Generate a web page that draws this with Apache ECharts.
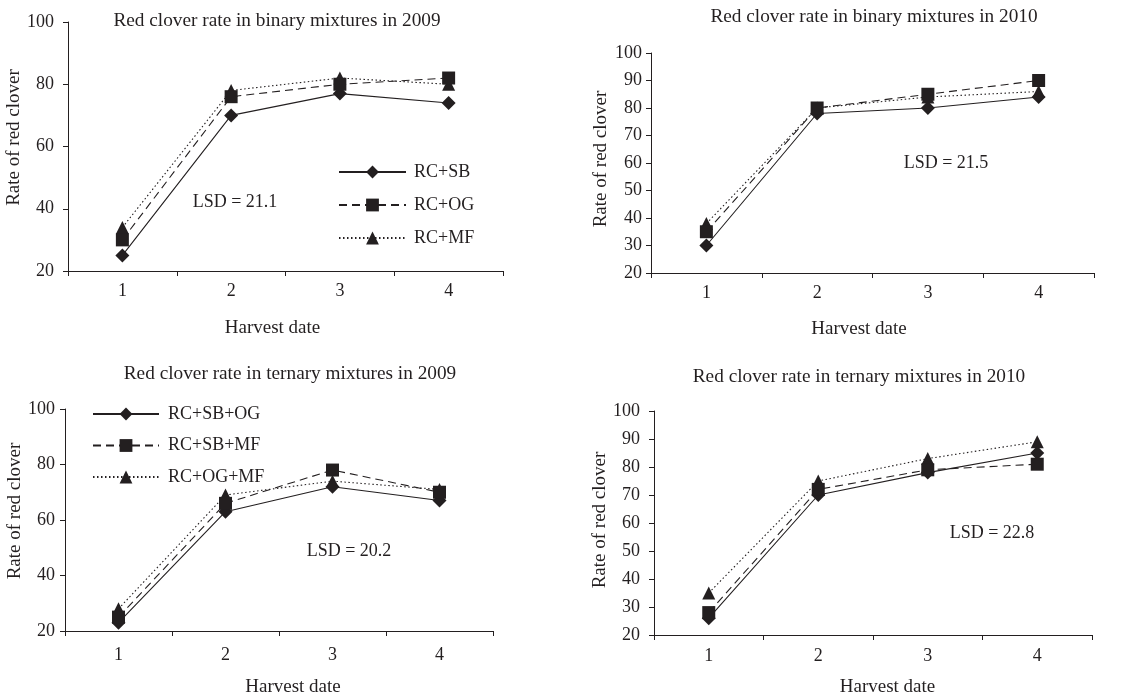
<!DOCTYPE html>
<html>
<head>
<meta charset="utf-8">
<script src="https://cdn.jsdelivr.net/npm/echarts@6/dist/echarts.min.js"></script>
<style>
html,body{margin:0;padding:0;background:#fff;}
#chart{width:1148px;height:698px;}
</style>
</head>
<body>
<div id="chart"></div>
<script>
// ---- data ----
const categories = ['1', '2', '3', '4'];
const binaryNames = ['RC+SB', 'RC+OG', 'RC+MF'];
const ternaryNames = ['RC+SB+OG', 'RC+SB+MF', 'RC+OG+MF'];

const rcSb2009 = [25, 70, 77, 74];
const rcOg2009 = [30, 76, 80, 82];
const rcMf2009 = [34, 78, 82, 80];

const rcSb2010 = [30, 78, 80, 84];
const rcOg2010 = [35, 80, 85, 90];
const rcMf2010 = [38, 80, 84, 86];

const rcSbOg2009 = [23, 63, 72, 67];
const rcSbMf2009 = [25, 66, 78, 70];
const rcOgMf2009 = [28, 69, 74, 71];

const rcSbOg2010 = [26, 70, 78, 85];
const rcSbMf2010 = [28, 72, 79, 81];
const rcOgMf2010 = [35, 75, 83, 89];

const panelTitles = [
  'Red clover rate in binary mixtures in 2009',
  'Red clover rate in binary mixtures in 2010',
  'Red clover rate in ternary mixtures in 2009',
  'Red clover rate in ternary mixtures in 2010'
];
const lsdLabels = ['LSD = 21.1', 'LSD = 21.5', 'LSD = 20.2', 'LSD = 22.8'];
const yTickStep = [20, 10, 20, 10];
const xAxisTitle = 'Harvest date';
const yAxisTitle = 'Rate of red clover';

// ---- styling / layout ----
const INK = '#231f20';
const FONT = '"Liberation Serif", "DejaVu Serif", serif';

const grids = [
  { left: 68, top: 22, width: 435, height: 249 },
  { left: 651, top: 53, width: 443, height: 220 },
  { left: 65, top: 409, width: 428, height: 223 },
  { left: 654, top: 411, width: 438, height: 225 }
];
const yLabelMargin = [14, 9, 10, 14];
const xLabelMargin = [11, 11, 15, 12];
const xNameGap = [48, 47, 47, 43];
const xNamePad = [[0, 26, 0, 0], [0, 27, 0, 0], [0, 0, 0, 28], [0, 0, 0, 29]];
const yNameGap = [43, 40, 40, 43];
const yNamePad = [18, 8, 18, 6];
const titlePos = [[277, 21], [874, 17], [290, 374], [859, 377]];
const lsdPos = [[235, 202], [946, 163], [349, 551], [992, 533]];

const lineKinds = [
  { symbol: 'diamond', size: 14, type: 'solid', z: 3 },
  { symbol: 'rect', size: 13, type: [8, 5], z: 4 },
  { symbol: 'triangle', size: 13, type: [1.5, 2.5], z: 2 }
];

const panelData = [
  [rcSb2009, rcOg2009, rcMf2009],
  [rcSb2010, rcOg2010, rcMf2010],
  [rcSbOg2009, rcSbMf2009, rcOgMf2009],
  [rcSbOg2010, rcSbMf2010, rcOgMf2010]
];
const panelNames = [binaryNames, binaryNames, ternaryNames, ternaryNames];

const xAxes = grids.map((g, i) => ({
  type: 'category',
  gridIndex: i,
  data: categories,
  boundaryGap: true,
  name: xAxisTitle,
  nameLocation: 'middle',
  nameGap: xNameGap[i],
  nameTextStyle: { fontFamily: FONT, fontSize: 19, color: INK, padding: xNamePad[i] },
  axisLine: { lineStyle: { color: INK, width: 1 } },
  axisTick: { show: true, length: 5, lineStyle: { color: INK }, alignWithLabel: false },
  axisLabel: { fontFamily: FONT, fontSize: 18, color: INK, margin: xLabelMargin[i] },
  splitLine: { show: false }
}));

const yAxes = grids.map((g, i) => ({
  type: 'value',
  gridIndex: i,
  min: 20,
  max: 100,
  interval: yTickStep[i],
  name: yAxisTitle,
  nameLocation: 'middle',
  nameGap: yNameGap[i],
  nameTextStyle: { fontFamily: FONT, fontSize: 19, color: INK, padding: [0, 0, 0, yNamePad[i]] },
  axisLine: { show: true, lineStyle: { color: INK, width: 1 } },
  axisTick: { show: true, length: 5, lineStyle: { color: INK } },
  axisLabel: { fontFamily: FONT, fontSize: 18, color: INK, margin: yLabelMargin[i] },
  splitLine: { show: false }
}));

const series = [];
panelData.forEach((arrs, p) => {
  arrs.forEach((arr, k) => {
    const kind = lineKinds[k];
    series.push({
      type: 'line',
      name: panelNames[p][k],
      xAxisIndex: p,
      yAxisIndex: p,
      data: arr,
      z: kind.z,
      symbol: kind.symbol,
      symbolSize: kind.size,
      showAllSymbol: true,
      animation: false,
      itemStyle: { color: INK, borderWidth: 0 },
      lineStyle: { color: INK, width: 1.1, type: kind.type }
    });
  });
});

const graphics = [];
panelTitles.forEach((t, i) => {
  graphics.push({
    type: 'text', x: titlePos[i][0], y: titlePos[i][1],
    style: { text: t, align: 'center', verticalAlign: 'middle', font: '19.3px ' + FONT, fill: INK }
  });
  graphics.push({
    type: 'text', x: lsdPos[i][0], y: lsdPos[i][1],
    style: { text: lsdLabels[i], align: 'center', verticalAlign: 'middle', font: '18px ' + FONT, fill: INK }
  });
});

const option = {
  animation: false,
  backgroundColor: '#fff',
  grid: grids.map(g => Object.assign({ containLabel: false }, g)),
  xAxis: xAxes,
  yAxis: yAxes,
  legend: [
    {
      data: binaryNames,
      orient: 'vertical',
      left: 333, top: 158,
      itemWidth: 67, itemHeight: 16, itemGap: 15,
      textStyle: { fontFamily: FONT, fontSize: 18, color: INK, padding: [0, 0, 0, 3] },
      selectedMode: false
    },
    {
      data: ternaryNames,
      orient: 'vertical',
      left: 87, top: 400,
      itemWidth: 66, itemHeight: 16, itemGap: 13.5,
      textStyle: { fontFamily: FONT, fontSize: 18, color: INK, padding: [0, 0, 0, 4] },
      selectedMode: false
    }
  ],
  graphic: graphics,
  series: series
};

const chart = echarts.init(document.getElementById('chart'), null, { renderer: 'canvas' });
chart.setOption(option);
</script>
</body>
</html>
